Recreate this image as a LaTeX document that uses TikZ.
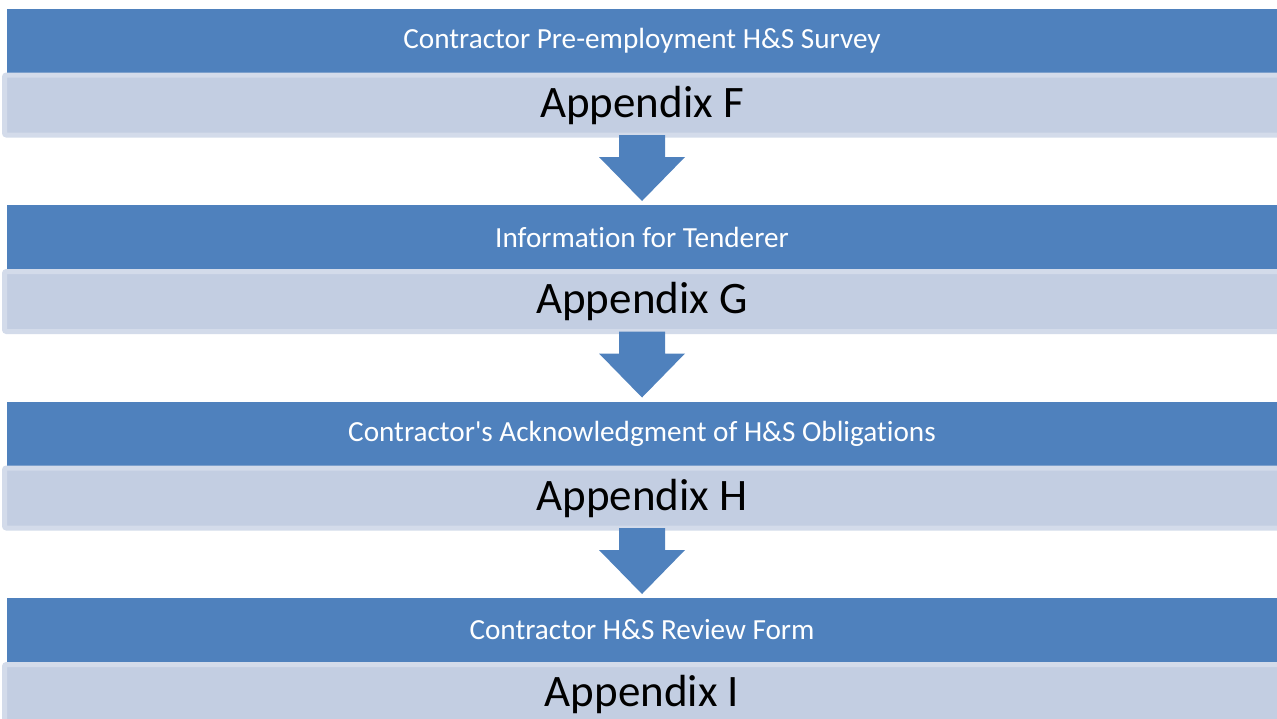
\documentclass[tikz,border=0pt]{standalone}
\usepackage{fontspec}
\setmainfont{Carlito}[Ligatures=NoCommon]
\usetikzlibrary{calc}
\definecolor{barblue}{RGB}{79,129,189}
\definecolor{apxfill}{RGB}{195,206,226}
\definecolor{apxrim}{RGB}{211,219,234}

\begin{document}
\begin{tikzpicture}[x=0.75pt,y=-0.75pt,
	bar/.style={fill=barblue,text=white,inner sep=0pt,outer sep=0pt,minimum width=952.5pt,minimum height=48pt,font=\fontsize{21.9pt}{26pt}\selectfont},
	apx/.style={fill=apxfill,draw=apxrim,line width=3.75pt,rounded corners=1.5pt,inner sep=0pt,outer sep=0pt,minimum width=956.25pt,minimum height=45pt,font=\fontsize{33.75pt}{40pt}\selectfont},
	down/.style={fill=barblue}]
	\useasboundingbox (0,0) rectangle (1277,718);

	\node[bar] (barF) at (642,40.5) {Contractor Pre-employment H\&S Survey};
	\node[apx] (apxF) at (642,105) {Appendix F};
	\node[bar] (barG) at (642,237) {Information for Tenderer};
	\node[apx] (apxG) at (642,301.5) {Appendix G};
	\node[bar] (barH) at (642,433.5) {Contractor\textquotesingle s Acknowledgment of H\&S Obligations};
	\node[apx] (apxH) at (642,498) {Appendix H};
	\node[bar] (barI) at (642,630) {Contractor H\&S Review Form};
	\node[apx] (apxI) at (642,694.5) {Appendix I};

	\fill[down] ($(apxF.south)+(-23,0)$) -- ($(apxF.south)+(23,0)$) -- ($(barG.north)+(23,-48)$) -- ($(barG.north)+(43,-48)$) -- ($(barG.north)+(0,-4)$) -- ($(barG.north)+(-43,-48)$) -- ($(barG.north)+(-23,-48)$) -- cycle;
	\fill[down] ($(apxG.south)+(-23,0)$) -- ($(apxG.south)+(23,0)$) -- ($(barH.north)+(23,-48)$) -- ($(barH.north)+(43,-48)$) -- ($(barH.north)+(0,-4)$) -- ($(barH.north)+(-43,-48)$) -- ($(barH.north)+(-23,-48)$) -- cycle;
	\fill[down] ($(apxH.south)+(-23,0)$) -- ($(apxH.south)+(23,0)$) -- ($(barI.north)+(23,-48)$) -- ($(barI.north)+(43,-48)$) -- ($(barI.north)+(0,-4)$) -- ($(barI.north)+(-43,-48)$) -- ($(barI.north)+(-23,-48)$) -- cycle;
\end{tikzpicture}
\end{document}
